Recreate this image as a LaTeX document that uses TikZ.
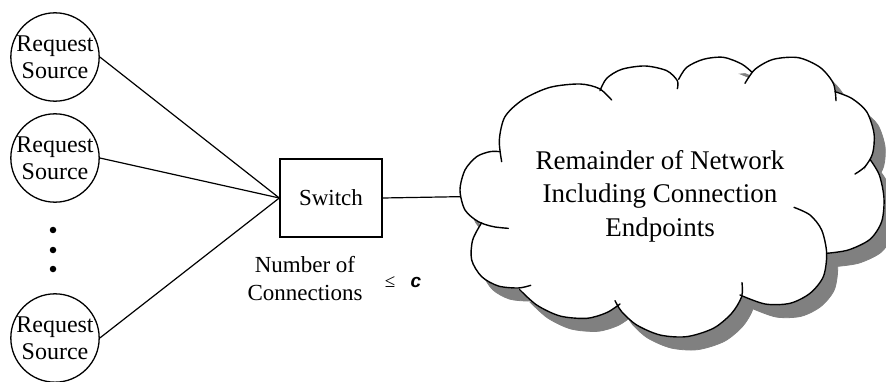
\documentclass[tikz,border=0pt]{standalone}
\usepackage{fontspec}
\setmainfont{Liberation Serif}
\setsansfont{Liberation Sans}
\begin{document}
\begin{tikzpicture}[x=1pt,y=-1pt,
  src/.style={circle, draw, line width=1.3pt, minimum size=88pt, inner sep=0pt, align=center, font=\fontsize{24}{27}\selectfont},
  swbox/.style={rectangle, draw, line width=1.4pt, minimum width=102pt, minimum height=78pt, inner sep=0pt, font=\fontsize{23}{27}\selectfont},
  conn/.style={line width=1.2pt},
  dotmark/.style={circle, fill, inner sep=0pt, minimum size=6.5pt},
  bump/.style={line width=1.4pt, line cap=round},
  lbl/.style={align=center, inner sep=0pt, font=\fontsize{23}{28}\selectfont}
]
\useasboundingbox (0,0) rectangle (886,382);

% cloud
\begin{scope}[shift={(440pt,-10pt)}, x=0.33333pt, y=-0.33333pt]
  \def\cloudfill{%
    \filldraw plot[smooth] coordinates {(185,455) (178,390) (195,320) (250,268) (330,232) (420,222) (478,236) (515,270)} -- cycle;
    \filldraw plot[smooth] coordinates {(480,242) (500,205) (545,178) (615,168) (680,182) (712,212) (712,236)} -- cycle;
    \filldraw plot[smooth] coordinates {(716,208) (740,172) (790,148) (850,142) (905,162) (935,186)} -- cycle;
    \filldraw plot[smooth] coordinates {(915,220) (945,178) (1000,148) (1075,143) (1140,172) (1180,220) (1188,272)} -- cycle;
    \filldraw plot[smooth] coordinates {(1185,245) (1235,265) (1280,305) (1302,370) (1298,430) (1275,470) (1245,492)} -- cycle;
    \filldraw plot[smooth] coordinates {(1290,448) (1318,495) (1332,565) (1325,635) (1290,688) (1225,720) (1160,730)} -- cycle;
    \filldraw plot[smooth] coordinates {(1062,592) (1110,615) (1145,660) (1160,730) (1150,800) (1110,850) (1050,880) (975,882) (900,855)} -- cycle;
    \filldraw plot[smooth] coordinates {(906,818) (905,860) (875,910) (820,955) (740,980) (660,975) (590,945) (545,905) (525,872)} -- cycle;
    \filldraw plot[smooth] coordinates {(540,882) (500,908) (440,925) (360,918) (290,885) (238,838)} -- cycle;
    \filldraw plot[smooth] coordinates {(125,638) (98,690) (95,750) (125,800) (175,828) (235,834) (272,826)} -- cycle;
    \filldraw plot[smooth] coordinates {(180,425) (150,425) (110,440) (75,480) (60,540) (75,600) (115,635) (160,650) (205,655)} -- cycle;
    \filldraw (120,540) -- (182,440) -- (250,330) -- (480,250) -- (600,200) -- (714,225) -- (840,170) -- (925,205)
      -- (1070,170) -- (1188,262) -- (1270,380) -- (1272,478) -- (1300,580) -- (1160,725) -- (1120,800)
      -- (905,845) -- (740,950) -- (532,878) -- (380,900) -- (242,836) -- (140,760) -- (120,640) -- cycle;
  }
  \begin{scope}[shift={(11pt,-13pt)}, fill=gray, draw=gray, line width=0.8pt]
    \cloudfill
  \end{scope}
  \begin{scope}[fill=white, draw=white, line width=0.8pt]
    \cloudfill
  \end{scope}
  \draw[bump] plot[smooth] coordinates {(185,455) (178,390) (195,320) (250,268) (330,232) (420,222) (478,236) (515,270)};
  \draw[bump] plot[smooth] coordinates {(480,242) (500,205) (545,178) (615,168) (680,182) (712,212) (712,236)};
  \draw[bump] plot[smooth] coordinates {(716,208) (740,172) (790,148) (850,142) (905,162) (935,186)};
  \draw[bump] plot[smooth] coordinates {(915,220) (945,178) (1000,148) (1075,143) (1140,172) (1180,220) (1188,272)};
  \draw[bump] plot[smooth] coordinates {(1185,245) (1235,265) (1280,305) (1302,370) (1298,430) (1275,470) (1245,492)};
  \draw[bump] plot[smooth] coordinates {(1290,448) (1318,495) (1332,565) (1325,635) (1290,688) (1225,720) (1160,730)};
  \draw[bump] plot[smooth] coordinates {(1062,592) (1110,615) (1145,660) (1160,730) (1150,800) (1110,850) (1050,880) (975,882) (900,855)};
  \draw[bump] plot[smooth] coordinates {(906,818) (905,860) (875,910) (820,955) (740,980) (660,975) (590,945) (545,905) (525,872)};
  \draw[bump] plot[smooth] coordinates {(540,882) (500,908) (440,925) (360,918) (290,885) (238,838)};
  \draw[bump] plot[smooth] coordinates {(125,638) (98,690) (95,750) (125,800) (175,828) (235,834) (272,826)};
  \draw[bump] plot[smooth] coordinates {(180,425) (150,425) (110,440) (75,480) (60,540) (75,600) (115,635) (160,650) (205,655)};
  \coordinate (cw) at (61,560);
\end{scope}

\node[align=center, inner sep=0pt, font=\fontsize{27}{33.5}\selectfont] (net) at (660,196) {Remainder of Network\\Including Connection\\Endpoints};

% sources
\node[src] (s1) at (55,57) {Request\\Source};
\node[src] (s2) at (55,158) {Request\\Source};
\node[src] (s4) at (55,338) {Request\\Source};
\node[dotmark] (d1) at (53,230) {};
\node[dotmark] (d2) at (53,250) {};
\node[dotmark] (d3) at (53,269) {};

% switch
\node[swbox] (sw) at (331,198) {Switch};

\draw[conn] (s1.east) -- (sw.west);
\draw[conn] (s2.east) -- (sw.west);
\draw[conn] (s4.east) -- (sw.west);
\draw[conn] (sw.east) -- (cw);

\node[lbl] (num) at (305,279) {Number of\\Connections};
\node[inner sep=0pt, font=\fontsize{19}{22}\selectfont] (le) at (390,282) {≤};
\node[inner sep=0pt, font=\fontsize{19}{22}\sffamily\bfseries\itshape] (cc) at (416,282) {c};
\end{tikzpicture}
\end{document}
